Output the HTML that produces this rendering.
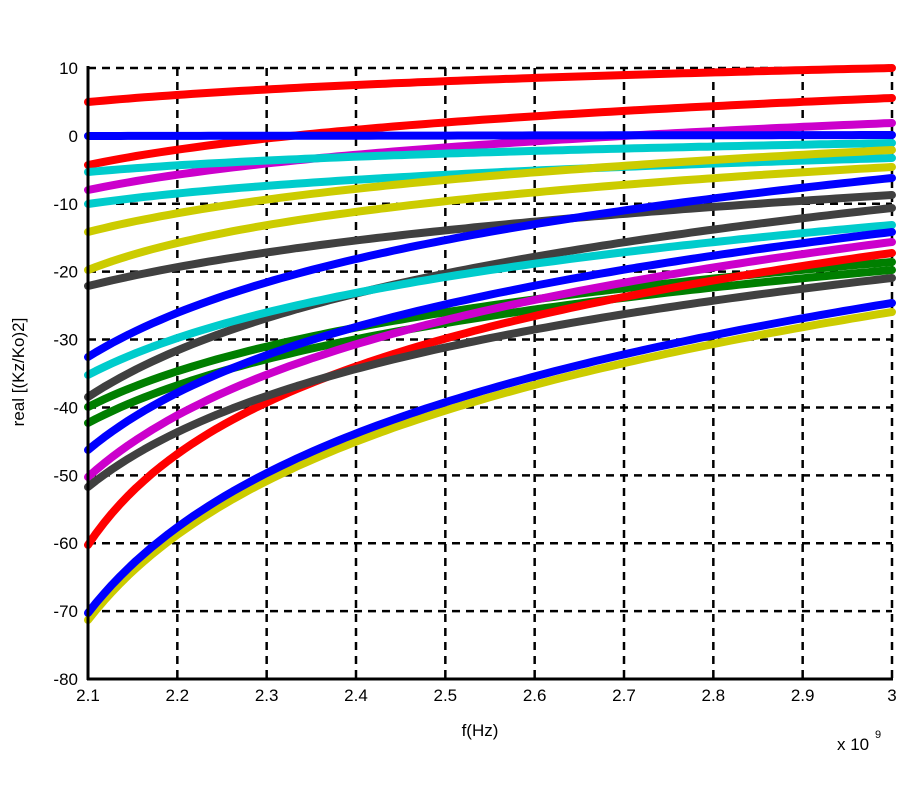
<!DOCTYPE html>
<html><head><meta charset="utf-8"><style>
html,body{margin:0;padding:0;background:#fff;}
svg{display:block;font-family:"Liberation Sans",sans-serif;}
</style></head><body>
<svg id="s" width="900" height="800" xmlns="http://www.w3.org/2000/svg">
<rect width="900" height="800" fill="#fff"/>
<g id="grid" stroke="#000" stroke-width="2.5" stroke-dasharray="8,6" fill="none"></g>
<g id="series" fill="none" stroke-width="8" stroke-linecap="round" stroke-linejoin="round"></g>
<line x1="88" y1="66" x2="88" y2="680" stroke="#000" stroke-width="3"/>
<line x1="87" y1="679" x2="893" y2="679" stroke="#000" stroke-width="3"/>
<g id="labels" font-size="17" fill="#000"></g>
<text x="480" y="736" font-size="17" text-anchor="middle">f(Hz)</text>
<text x="837" y="750" font-size="17">x 10</text>
<text x="875" y="738" font-size="11">9</text>
<text transform="translate(24,372) rotate(-90)" font-size="17" text-anchor="middle">real [(Kz/Ko)2]</text>
</svg>
<script>
var ns="http://www.w3.org/2000/svg";
var L=88,R=892,T=68,B=679;
var g=document.getElementById('grid'),lb=document.getElementById('labels'),se=document.getElementById('series');
function el(p,tag,a,txt){var e=document.createElementNS(ns,tag);for(var k in a)e.setAttribute(k,a[k]);if(txt!==undefined)e.textContent=txt;p.appendChild(e);return e;}
for(var i=0;i<=9;i++){
 var x=L+(R-L)*i/9;
 if(i>0)el(g,'line',{x1:x,y1:T,x2:x,y2:B});
 el(lb,'text',{x:x,y:701,'text-anchor':'middle'},i==9?'3':(2.1+i/10).toFixed(1));
}
for(var j=0;j<=9;j++){
 var y=T+(B-T)*j/9;
 if(j<9)el(g,'line',{x1:L,y1:y,x2:R,y2:y});
 el(lb,'text',{x:78,y:y+6,'text-anchor':'end'},String(10-10*j));
}
var S=[
['#ff0000',102,68,3],['#ff0000',165,98,4],['#cc00cc',190,123,4],['#0000ff',136,135,1],
['#00cccc',172,143,4],['#00cccc',204,158,4],['#cccc00',232,150,4],['#cccc00',270,167,6],
['#404040',286,195,3],['#0000ff',357,178,5],['#404040',397,208,5],['#00cccc',375,225,5],
['#007f00',407,262,5],['#007f00',423,270,5],['#0000ff',450,232,6],['#cc00cc',477,242,6],
['#ff0000',545,253,10],['#404040',487,278,6],['#cccc00',620,312,7],['#0000ff',613,303,7]
];
S.forEach(function(s){
 var pts=[];
 for(var n=0;n<=100;n++){var t=n/100;var gg=s[3]<=1?t:Math.log(1+s[3]*t)/Math.log(1+s[3]);
  pts.push((L+(R-L)*t).toFixed(1)+','+(s[1]+(s[2]-s[1])*gg).toFixed(1));}
 el(se,'polyline',{points:pts.join(' '),stroke:s[0]});
});
</script>
</body></html>
